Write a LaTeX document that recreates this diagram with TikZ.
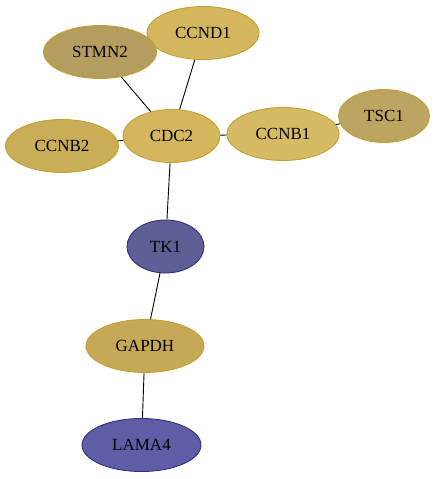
\documentclass[tikz,border=0pt]{standalone}
\usepackage{fontspec}
\setmainfont{Liberation Serif}
\usepackage{tikz}
\usetikzlibrary{shapes,positioning}

\definecolor{goldfill}{HTML}{D4B65C}
\definecolor{goldline}{HTML}{C2A136}
\definecolor{olivefill}{HTML}{B49D5E}
\definecolor{tscfill}{HTML}{BCA461}
\definecolor{bluefill}{HTML}{5F5F95}
\definecolor{lamafill}{HTML}{5E5EA6}
\definecolor{blueline}{HTML}{2F2F82}

\tikzset{
  gene/.style={ellipse, draw=goldline, fill=goldfill, line width=0.9pt, inner sep=0pt,
    minimum height=53pt, font=\fontsize{17}{20}\selectfont},
  bluegene/.style={gene, draw=blueline, fill=bluefill},
  link/.style={line width=0.9pt, black}
}

\begin{document}
\begin{tikzpicture}[x=1pt, y=-1pt]
  \useasboundingbox (0,0) rectangle (436,479);

  \node[gene, minimum width=112pt] (CCND1) at (203, 33) {CCND1};
  \node[gene, fill=olivefill, minimum width=113pt] (STMN2) at (100, 52) {STMN2};
  \node[gene, minimum width=97pt] (CDC2) at (171.5, 136) {CDC2};
  \node[gene, fill=goldfill!95!white, minimum width=112pt] (CCNB1) at (283, 134) {CCNB1};
  \node[gene, fill=tscfill, minimum width=91pt] (TSC1) at (384, 116) {TSC1};
  \node[gene, fill=goldfill!95!black, minimum width=113pt] (CCNB2) at (62, 146) {CCNB2};
  \node[bluegene, minimum width=77pt] (TK1) at (165.5, 246.5) {TK1};
  \node[gene, fill=goldfill!93!black, minimum width=118pt] (GAPDH) at (145, 346) {GAPDH};
  \node[bluegene, fill=lamafill, minimum width=119pt] (LAMA4) at (141.5, 445) {LAMA4};

  % interactions
  \draw[link] (CCND1) -- (CDC2);
  \draw[link] (STMN2) -- (CDC2);
  \draw[link] (CCNB2) -- (CDC2);
  \draw[link] (CDC2) -- (CCNB1);
  \draw[link] (CCNB1) -- (TSC1);
  \draw[link] (CDC2) -- (TK1);
  \draw[link] (TK1) -- (GAPDH);
  \draw[link] (GAPDH) -- (LAMA4);
\end{tikzpicture}
\end{document}
